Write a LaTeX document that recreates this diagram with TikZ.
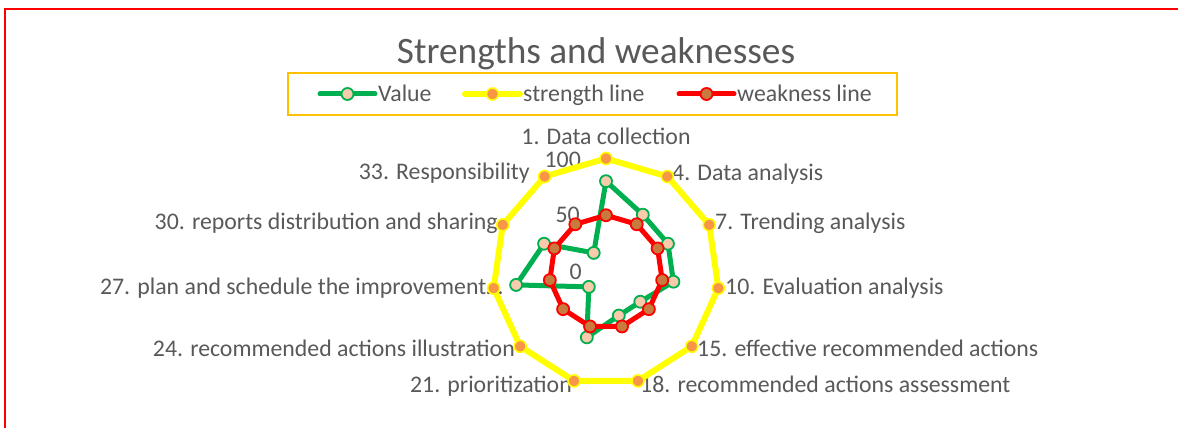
\documentclass[tikz,border=0pt]{standalone}
\usepackage{fontspec}
\setmainfont{Carlito}
\usetikzlibrary{calc}
\definecolor{txtgray}{HTML}{595959}
\definecolor{vgreen}{HTML}{00B050}
\definecolor{vfill}{HTML}{F8CBAD}
\definecolor{syellow}{HTML}{FFFF00}
\definecolor{sorange}{HTML}{F79646}
\definecolor{wred}{HTML}{FF0000}
\definecolor{wbrown}{HTML}{C77B3E}
\definecolor{legbox}{HTML}{FFC000}
\newcommand\lblfont{\fontsize{23.8}{28}\selectfont}
\newcommand\ttlfont{\fontsize{37.3}{44}\selectfont}
\tikzset{
  lbl/.style={text=txtgray, inner sep=0pt, font=\lblfont},
  vline/.style={draw=vgreen, line width=5pt, line join=round},
  sline/.style={draw=syellow, line width=6pt, line join=round},
  wline/.style={draw=wred, line width=5pt, line join=round},
  vmark/.style={circle, draw=vgreen, fill=vfill, line width=1.8pt, minimum size=12pt, inner sep=0pt},
  smark/.style={circle, draw=syellow, fill=sorange, line width=1.6pt, minimum size=12pt, inner sep=0pt},
  wmark/.style={circle, draw=wred, fill=wbrown, line width=1.8pt, minimum size=12pt, inner sep=0pt},
}
\begin{document}
\begin{tikzpicture}[x=1pt,y=1pt]
\useasboundingbox (0,0) rectangle (1178,428);
\fill[white] (0,0) rectangle (1178,428);
% outer red frame (only top and left visible)
\coordinate (fr1) at (4.5,0);
\coordinate (fr2) at (4.5,418.5);
\coordinate (fr3) at (1178,418.5);
\draw[wred, line width=2pt] (fr1) -- (fr2) -- (fr3);
% title
\node[text=txtgray, inner sep=0pt, font=\ttlfont, anchor=base] (title) at (596,364) {Strengths and weaknesses};
% legend
\node[draw=legbox, line width=1.5pt, minimum width=609pt, minimum height=42pt, inner sep=0pt] (legend) at (592.5,334) {};
\coordinate (lg1a) at (320,334); \coordinate (lg1b) at (375,334);
\coordinate (lg2a) at (465,334); \coordinate (lg2b) at (520,334);
\coordinate (lg3a) at (679,334); \coordinate (lg3b) at (734,334);
\draw[vline, line cap=round] (lg1a) -- (lg1b);
\node[vmark] (lgm1) at (347.5,334) {};
\node[lbl, anchor=base west] (lgt1) at (378,326.3) {Value};
\draw[sline, line cap=round] (lg2a) -- (lg2b);
\node[smark] (lgm2) at (492.5,334) {};
\node[lbl, anchor=base west] (lgt2) at (523,326.3) {strength line};
\draw[wline, line cap=round] (lg3a) -- (lg3b);
\node[wmark] (lgm3) at (706.5,334) {};
\node[lbl, anchor=base west] (lgt3) at (737,326.3) {weakness line};
% radar centre
\coordinate (c) at (606,156);
% tick labels
\node[lbl, anchor=base east] (t100) at (581,260) {100};
\node[lbl, anchor=base east] (t50) at (580,205) {50};
\node[lbl, anchor=base east] (t0) at (582,148) {0};
% axis labels
\node[lbl, anchor=base] (L1) at (606,283) {1. Data collection};
\node[lbl, anchor=base west] (L4) at (672,247) {4. Data analysis};
\node[lbl, anchor=base west] (L7) at (715,198) {7. Trending analysis};
\node[lbl, anchor=base west] (L10) at (725,133) {10. Evaluation analysis};
\node[lbl, anchor=base west] (L15) at (697,71) {15. effective recommended actions};
\node[lbl, anchor=base west] (L18) at (640,35) {18. recommended actions assessment};
\node[lbl, anchor=base east] (L21) at (572,35) {21. prioritization};
\node[lbl, anchor=base east] (L24) at (515,71) {24. recommended actions illustration};
\node[lbl, anchor=base east] (L27) at (503,133) {27. plan and schedule the improvement…};
\node[lbl, anchor=base east] (L30) at (498,198) {30. reports distribution and sharing};
\node[lbl, anchor=base east] (L33) at (530,248) {33. Responsibility};
% data points
\foreach \k/\v in {0/80,1/60,2/60,3/60,4/40,5/40,6/60,7/20,8/80,9/60,10/20}
  \coordinate (v\k) at ($(c)+({90-\k*360/11}:{\v*1.135})$);
\foreach \k in {0,...,10}
  \coordinate (s\k) at ($(c)+({90-\k*360/11}:{100*1.135})$);
\foreach \k in {0,...,10}
  \coordinate (w\k) at ($(c)+({90-\k*360/11}:{50*1.135})$);
% Value series
\draw[vline] (v0) -- (v1) -- (v2) -- (v3) -- (v4) -- (v5) -- (v6) -- (v7) -- (v8) -- (v9) -- (v10) -- cycle;
\foreach \k in {0,...,10} \node[vmark] (vm\k) at (v\k) {};
% strength series
\draw[sline] (s0) -- (s1) -- (s2) -- (s3) -- (s4) -- (s5) -- (s6) -- (s7) -- (s8) -- (s9) -- (s10) -- cycle;
\foreach \k in {0,...,10} \node[smark] (sm\k) at (s\k) {};
% weakness series
\draw[wline] (w0) -- (w1) -- (w2) -- (w3) -- (w4) -- (w5) -- (w6) -- (w7) -- (w8) -- (w9) -- (w10) -- cycle;
\foreach \k in {0,...,10} \node[wmark] (wm\k) at (w\k) {};
\end{tikzpicture}
\end{document}
